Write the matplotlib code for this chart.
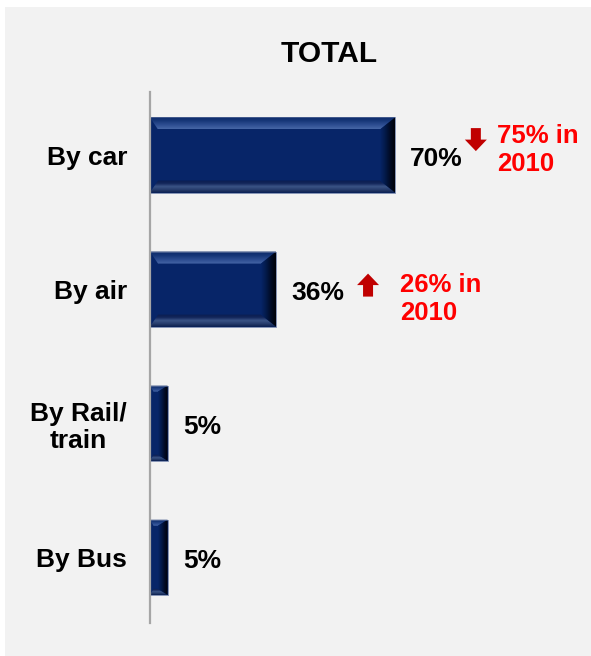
import numpy as np
import matplotlib.pyplot as plt
import matplotlib.transforms as mtransforms
from matplotlib.colors import to_rgb
from matplotlib.patches import Polygon, Rectangle

plt.rcParams['font.family'] = ['Liberation Sans', 'DejaVu Sans']
plt.rcParams['font.weight'] = 'bold'

# data
modes = ["By car", "By air", "By Rail/\ntrain", "By Bus"]
share = [70, 36, 5, 5]
share_2010 = [75, 26, None, None]

# colours
BAR = '#072568'
TOP_STOPS = ['#0a2765', '#163677', '#2c4c90', '#4666a6']
BOT_STOPS = ['#0a1d50', '#12255a', '#3b5486', '#263c6c', '#0c1f4c']
RIGHT_STOPS = ['#072568', '#031a4a', '#010b26', '#000208']
RED_TXT = '#ff0000'
RED_ARROW = '#c00000'


def gradient(stops, n=64):
    """n x 3 array of colours running through the given stops."""
    rgb = np.array([to_rgb(c) for c in stops])
    t = np.linspace(0, 1, len(stops))
    s = np.linspace(0, 1, n)
    return np.stack([np.interp(s, t, rgb[:, k]) for k in range(3)], axis=1)


def bevel(ax, verts, extent, stops, vertical):
    poly = Polygon(verts, closed=True, facecolor='none', edgecolor='none')
    ax.add_patch(poly)
    g = gradient(stops)
    img = g[:, None, :] if vertical else g[None, :, :]
    im = ax.imshow(img, extent=extent, aspect='auto', interpolation='bilinear',
                   origin='upper', zorder=3)
    im.set_clip_path(poly)


fig = plt.figure(figsize=(5.91, 6.56), dpi=100)
fig.patch.set_facecolor('white')
fig.patches.append(Rectangle((5 / 591, 0), 1, 1 - 7 / 656, transform=fig.transFigure,
                             facecolor='#f2f2f2', edgecolor='none', zorder=-1))

ax = fig.add_axes([150 / 591, 1 - 623 / 656, 350 / 591, 531 / 656])
ax.set_facecolor('none')

y = np.arange(len(modes))
h = 0.56
ax.barh(y, share, height=h, color=BAR, edgecolor='none', zorder=2)

# bevelled edges on every bar
px_x = 100 / 350      # data units per pixel along x
px_y = 1 / 134        # data units per pixel along y
for yi, w in zip(y, share):
    bx = min(15 * px_x, w * 0.55)
    bl = min(8 * px_x, w * 0.2)
    bt = 12 * px_y if w > 10 else 6 * px_y
    bb = 12 * px_y if w > 10 else 6 * px_y
    top, bot = yi - h / 2, yi + h / 2
    bevel(ax, [(0, top), (w, top), (w - bx, top + bt), (bl, top + bt)],
          (0, w, top + bt, top), TOP_STOPS, vertical=True)
    bevel(ax, [(0, bot), (w, bot), (w - bx, bot - bb), (bl, bot - bb)],
          (0, w, bot, bot - bb), BOT_STOPS, vertical=True)
    bevel(ax, [(w, top), (w, bot), (w - bx, bot - bb), (w - bx, top + bt)],
          (w - bx, w, bot, top), RIGHT_STOPS, vertical=False)
    ax.add_patch(Rectangle((0, top), w, h, facecolor='none', edgecolor='#5b6f9c',
                           linewidth=0.5, zorder=3.5))
    ax.annotate(f"{w}%", xy=(w, yi), xytext=(11, -3), textcoords='offset points',
                ha='left', va='center', fontsize=19, fontweight='bold', color='black')

# change vs. 2010: block arrow + red note
arrow_pos = {0: (93.1, -0.115), 1: (62.3, 0.97)}
note_pos = {0: (99.1, -0.04), 1: (71.4, 1.075)}
up = np.array([(-5, -11.5), (5, -11.5), (5, 0), (11, 0), (0, 11.5), (-11, 0), (-5, 0)])
for i, (now, before) in enumerate(zip(share, share_2010)):
    if before is None:
        continue
    verts = up if now > before else up * [1, -1]
    ax_, ay_ = arrow_pos[i]
    trans = (mtransforms.Affine2D().scale(1 / fig.dpi) + fig.dpi_scale_trans
             + mtransforms.ScaledTranslation(ax_, ay_, ax.transData))
    ax.add_patch(Polygon(verts, closed=True, transform=trans, facecolor=RED_ARROW,
                         edgecolor='none', zorder=4, clip_on=False))
    nx, ny = note_pos[i]
    ax.text(nx, ny, f"{before}% in\n2010", ha='left', va='center', fontsize=18.5,
            fontweight='bold', color=RED_TXT, linespacing=1.2, clip_on=False)

ax.set_xlim(0, 100)
ax.set_ylim(3.49, -0.47)
ax.set_yticks(y)
ax.set_yticklabels(modes, fontsize=19, fontweight='bold', multialignment='center',
                   linespacing=1.15)
ax.tick_params(axis='y', length=0, pad=16.5)
ax.set_xticks([])
for s in ['top', 'right', 'bottom']:
    ax.spines[s].set_visible(False)
ax.spines['left'].set_color('#a6a6a6')
ax.spines['left'].set_linewidth(1.6)
ax.spines['left'].set_zorder(5)

fig.text(329 / 591, 1 - 54 / 656, "TOTAL", ha='center', va='center', fontsize=21.5,
         fontweight='bold')

fig.savefig('out.png', dpi=100)
